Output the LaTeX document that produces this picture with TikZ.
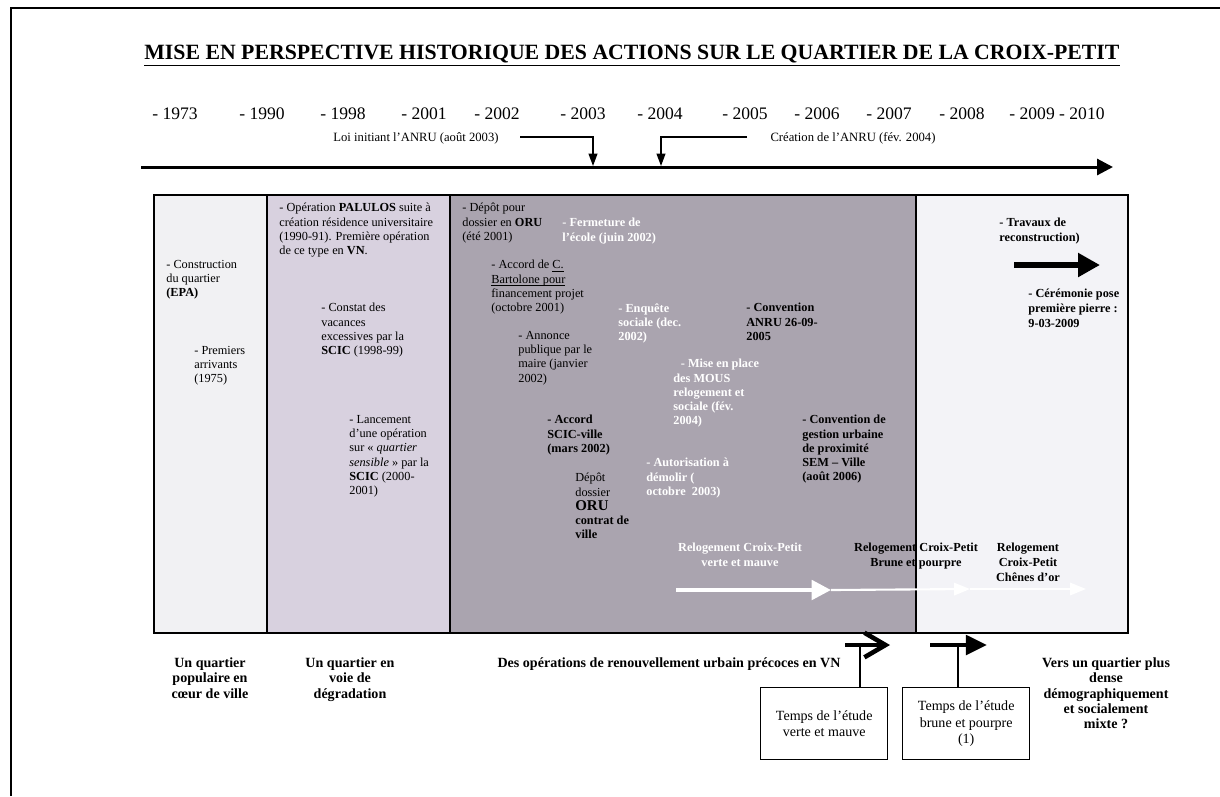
\documentclass[tikz,border=0pt]{standalone}
\usepackage{fontspec}
\setmainfont{Liberation Serif}
\usetikzlibrary{arrows.meta, positioning}
\definecolor{phaseOne}{RGB}{241, 241, 243}
\definecolor{phaseTwo}{RGB}{216, 209, 223}
\definecolor{phaseThree}{RGB}{170, 164, 175}
\definecolor{phaseFour}{RGB}{243, 243, 247}
\tikzset{
  PhaseBox/.style   = {draw=black, line width=0.9pt},
  PanelTxt/.style   = {anchor=north west, inner sep=0pt, align=left,
                       font=\fontsize{7}{8.1}\selectfont},
  PanelBold/.style  = {PanelTxt, font=\fontsize{7}{8.1}\selectfont\bfseries},
  PanelWhite/.style = {PanelBold, text=white},
  RelogLbl/.style   = {anchor=north, inner sep=0pt, align=center,
                       font=\fontsize{7}{8.3}\selectfont\bfseries},
  YearLbl/.style    = {anchor=base, inner sep=0pt, font=\fontsize{10}{12}\selectfont},
  NoteLbl/.style    = {anchor=base, inner sep=0pt, font=\fontsize{7.2}{9}\selectfont},
  TitleLbl/.style   = {anchor=base, inner sep=0pt, font=\fontsize{12.4}{14}\selectfont\bfseries},
  Caption/.style    = {anchor=north, inner sep=0pt, align=center,
                       font=\fontsize{8}{8.8}\selectfont\bfseries},
  StudyBox/.style   = {draw, line width=0.8pt, fill=white, align=center, inner sep=0pt,
                       anchor=north west, minimum width=2.54cm, minimum height=1.44cm,
                       font=\fontsize{8}{9.3}\selectfont},
  TimeLine/.style   = {line width=1.7pt, -{Triangle[length=9pt, width=9pt]}},
  Pointer/.style    = {line width=0.8pt, -{Triangle[length=7pt, width=5pt]}},
  WorksArrow/.style = {line width=3.4pt, -{Triangle[length=12.5pt, width=13pt]}},
  RelogArrow/.style = {white, line width=2.3pt, -{Triangle[length=11pt, width=11pt]}},
  RelogNext/.style  = {white, line width=1.2pt, -{Triangle[length=9pt, width=7pt]}},
  StudyArrowA/.style= {line width=2.6pt, -{Straight Barb[length=12pt, width=14pt]}},
  StudyArrowB/.style= {line width=2.4pt, -{Triangle[length=12pt, width=11pt]}},
  Leader/.style     = {line width=0.6pt},
}

\begin{document}
\begin{tikzpicture}[x=0.02cm, y=-0.02cm]
  \useasboundingbox (0,0) rectangle (1220,796);
  \draw[line width=1.3pt] (11,796) -- (11,8) -- (1220,8);

  \node[TitleLbl] (title) at (632,59)
    {\underline{MISE EN PERSPECTIVE HISTORIQUE DES ACTIONS SUR LE QUARTIER DE LA CROIX-PETIT}};

  \foreach \yr/\xx in {1973/175, 1990/262, 1998/343, 2001/424, 2002/497, 2003/583,
                       2004/660, 2005/745, 2006/817, 2007/889, 2008/962}
    \node[YearLbl] (y\yr) at (\xx,119) {- \yr};
  \node[YearLbl] (y2009) at (1057,119) {- 2009 - 2010};

  \node[NoteLbl] (loi)  at (416,141) {Loi initiant l’ANRU (août 2003)};
  \node[NoteLbl] (anru) at (853,141) {Création de l’ANRU (fév. 2004)};

  \coordinate (tStart) at (141,167);
  \coordinate (tEnd)   at (1113,167);
  \coordinate (t2003)  at (593,166);
  \coordinate (t2004)  at (661,166);
  \coordinate (loiFoot)  at (520,137);
  \coordinate (anruFoot) at (747,137);
  \draw[TimeLine] (tStart) -- (tEnd);
  \draw[Pointer] (loiFoot) -| (t2003);
  \draw[Pointer] (anruFoot) -| (t2004);

  \draw[PhaseBox, fill=phaseOne]   (154,195) rectangle (267,633);
  \draw[PhaseBox, fill=phaseTwo]   (267,195) rectangle (450,633);
  \draw[PhaseBox, fill=phaseThree] (450,195) rectangle (916,633);
  \draw[PhaseBox, fill=phaseFour]  (916,195) rectangle (1128,633);

  \node[PanelTxt] (constr)   at (166,260) {- Construction\\du quartier\\\textbf{(EPA)}};
  \node[PanelTxt] (premiers) at (194,346) {- Premiers\\arrivants\\(1975)};

  \node[PanelTxt] (palulos)   at (279,203) {- Opération \textbf{PALULOS} suite à\\création résidence universitaire\\(1990-91). Première opération\\de ce type en \textbf{VN}.};
  \node[PanelTxt] (constat)   at (321,303) {- Constat des\\vacances\\excessives par la\\\textbf{SCIC} (1998-99)};
  \node[PanelTxt] (lancement) at (349,415) {- Lancement\\d’une opération\\sur « \textit{quartier}\\\textit{sensible} » par la\\\textbf{SCIC} (2000-\\2001)};

  \node[PanelTxt]   (depot)      at (462,203) {- Dépôt pour\\dossier en \textbf{ORU}\\(été 2001)};
  \node[PanelWhite] (fermeture)  at (562,218) {- Fermeture de\\l’école (juin 2002)};
  \node[PanelTxt]   (bartolone)  at (491,260) {- Accord de \underline{\smash{C.}}\\\underline{\smash{Bartolone pour}}\\financement projet\\(octobre 2001)};
  \node[PanelWhite] (enquete)    at (618,303) {- Enquête\\sociale (dec.\\2002)};
  \node[PanelTxt]   (annonce)    at (518,331) {- Annonce\\publique par le\\maire (janvier\\2002)};
  \node[PanelBold]  (convAnru)   at (746,303) {- Convention\\ANRU 26-09-\\2005};
  \node[PanelWhite] (mous)       at (673,359) {\hspace{1.5mm}- Mise en place\\des MOUS\\relogement et\\sociale (fév.\\2004)};
  \node[PanelBold]  (accordScic) at (547,415) {- Accord\\SCIC-ville\\(mars 2002)};
  \node[PanelBold]  (convGest)   at (802,415) {- Convention de\\gestion urbaine\\de proximité\\SEM – Ville\\(août 2006)};
  \node[PanelWhite] (demolir)    at (646,458) {- Autorisation à\\démolir (\\octobre~~2003)};
  \node[PanelTxt]   (depotOru)   at (575,473) {Dépôt\\dossier\\{\fontsize{8.5}{8.1}\selectfont\bfseries ORU}\\\textbf{contrat de}\\\textbf{ville}};

  \node[RelogLbl, text=white] (relogVM) at (740,543) {Relogement Croix-Petit\\verte et mauve};
  \node[RelogLbl] (relogBP) at (916,543) {Relogement Croix-Petit\\Brune et pourpre};
  \node[RelogLbl] (relogCO) at (1028,543) {Relogement\\Croix-Petit\\Chênes d’or};

  \coordinate (relogA) at (676,590);
  \coordinate (relogB) at (831,590);
  \coordinate (relogC) at (970,589);
  \coordinate (relogD) at (1086,589);
  \draw[RelogArrow] (relogA) -- (relogB);
  \draw[RelogNext] (relogB) -- (relogC);
  \draw[RelogNext] (relogC) -- (relogD);

  \node[PanelBold] (travaux)   at (999,218) {- Travaux de\\reconstruction)};
  \node[PanelBold, font=\fontsize{7}{8.5}\selectfont\bfseries] (ceremonie) at (1028,289) {- Cérémonie pose\\première pierre :\\9-03-2009};
  \coordinate (worksA) at (1014,265);
  \coordinate (worksB) at (1100,265);
  \draw[WorksArrow] (worksA) -- (worksB);

  \node[Caption] (capPopu)  at (210,657) {Un quartier\\populaire en\\cœur de ville};
  \node[Caption] (capDegr)  at (350,657) {Un quartier en\\voie de\\dégradation};
  \node[Caption] (capOper)  at (669,657) {Des opérations de renouvellement urbain précoces en VN};
  \node[Caption] (capMixte) at (1106,657) {Vers un quartier plus\\dense\\démographiquement\\et socialement\\mixte ?};

  \node[StudyBox] (study1) at (760,687) {Temps de l’étude\\verte et mauve};
  \node[StudyBox] (study2) at (902,687) {Temps de l’étude\\brune et pourpre\\(1)};

  \coordinate (studyA1) at (845,645);
  \coordinate (studyA2) at (890,645);
  \coordinate (studyB1) at (930,645);
  \coordinate (studyB2) at (987,645);
  \coordinate (lead1) at (860,645);
  \coordinate (lead2) at (958,645);
  \draw[Leader] (lead1) -- (lead1 |- study1.north);
  \draw[Leader] (lead2) -- (lead2 |- study2.north);
  \draw[StudyArrowA] (studyA1) -- (studyA2);
  \draw[StudyArrowB] (studyB1) -- (studyB2);
\end{tikzpicture}
\end{document}
